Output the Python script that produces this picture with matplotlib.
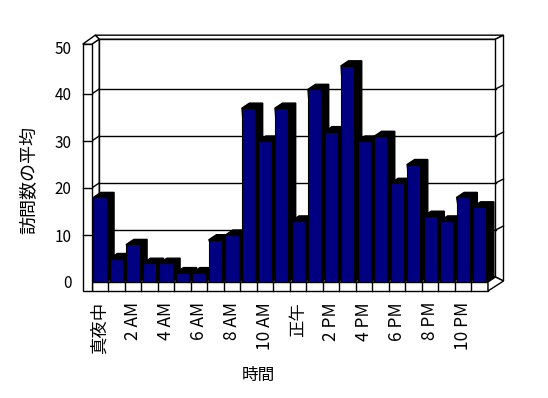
import matplotlib
matplotlib.use('Agg')
import matplotlib.pyplot as plt
from matplotlib.patches import Polygon, Rectangle
import numpy as np

plt.rcParams['font.family'] = ['Noto Sans CJK JP', 'DejaVu Sans']

# 時間帯ごとの訪問数の平均
hours = np.arange(24)
visits = [18, 5, 8, 4, 4, 2, 2, 9, 10, 37, 30, 37, 13, 41, 32, 46, 30, 31, 21, 25, 14, 13, 18, 16]
tick_hours = [0, 2, 4, 6, 8, 10, 12, 14, 16, 18, 20, 22]
tick_labels = ['真夜中', '2 AM', '4 AM', '6 AM', '8 AM', '10 AM', '正午',
               '2 PM', '4 PM', '6 PM', '8 PM', '10 PM']
y_ticks = [0, 10, 20, 30, 40, 50]

W, H = 548, 398
fig = plt.figure(figsize=(W / 100, H / 100), dpi=100)
ax = fig.add_axes([91.7 / W, (H - 282) / H, 396.3 / W, 235 / H])
ax.set_xlim(-0.5, 23.5)
ax.set_ylim(0, 50)
for s in ax.spines.values():
    s.set_visible(False)
ax.patch.set_visible(False)

# ピクセル -> データ単位
px = 24 / 396.3
py = 50 / 235
x0, x1 = -0.5, 23.5
ddx, ddy = 7.5 * px, 5 * py     # 奥行き
TOP = 50.6
LW = 1.0


def poly(pts, fc='white', z=1):
    ax.add_patch(Polygon(pts, closed=True, facecolor=fc, edgecolor='black',
                         linewidth=LW, zorder=z, clip_on=False))


def line(xs, ys, z=1):
    ax.plot(xs, ys, color='black', linewidth=LW, zorder=z, clip_on=False)


# 奥の壁
poly([(x0 + ddx, ddy), (x1 + ddx, ddy), (x1 + ddx, TOP + ddy), (x0 + ddx, TOP + ddy)], z=0.5)
poly([(x0 + ddx, TOP + ddy), (x1 + ddx, TOP + ddy),
      (x1 + ddx + 8 * px, TOP + ddy + 4 * py), (x0 + ddx - 4 * px, TOP + ddy + 4 * py)], z=0.5)
# 右の壁
poly([(x1 + ddx, ddy), (x1 + ddx, TOP + ddy),
      (x1 + ddx + 8 * px, TOP + ddy + 4 * py), (x1 + ddx + 8 * px, 1 * py)], z=0.5)
# 床 (上面)
poly([(x0, 0), (x1, 0), (x1 + ddx, ddy), (x0 + ddx, ddy)], z=0.6)
# 左の壁 (内側)
poly([(x0, 0), (x0 + ddx, ddy), (x0 + ddx, TOP + ddy), (x0, TOP)], z=0.6)

for v in y_ticks[1:-1]:
    line([x0 + ddx, x1 + ddx], [v + ddy, v + ddy], z=0.7)
    line([x0, x0 + ddx], [v, v + ddy], z=0.7)
    line([x1 + ddx, x1 + ddx + 8 * px], [v + ddy, v + ddy + 4 * py], z=0.7)

# 棒の側面と上面
w = 0.8
for h, v in zip(hours, visits):
    poly([(h + w / 2, 0), (h + w / 2 + ddx, ddy), (h + w / 2 + ddx, v + ddy),
          (h - w / 2 + ddx, v + ddy), (h - w / 2, v)], fc='black', z=2)

ax.bar(hours, visits, width=w, color='#000080', edgecolor='black', linewidth=0.8, zorder=3)

# 床 (前面)
poly([(x0, -9 * py), (x1, -9 * py), (x1, 0), (x0, 0)], z=4)
for k in range(1, 24):
    line([k - 0.5, k - 0.5], [-9 * py, 0], z=4.1)
poly([(x1, -9 * py), (x1, 0), (x1 + ddx, ddy), (x1 + ddx + 8 * px, 1 * py)], z=4)

# 左の壁 (前面)
poly([(x0 - 9 * px, -9 * py), (x0, -9 * py), (x0, TOP), (x0 - 9 * px, TOP)], z=4)
poly([(x0 - 9 * px, TOP), (x0, TOP), (x0 + ddx, TOP + ddy),
      (x0 + ddx - 4 * px, TOP + ddy + 4 * py)], z=4)
for v in y_ticks[1:-1]:
    line([x0 - 9 * px, x0], [v, v], z=4.1)

ax.set_yticks(y_ticks)
ax.tick_params(axis='y', length=0, pad=14.5, labelsize=11)
ax.set_xticks(tick_hours, tick_labels, rotation=90)
ax.tick_params(axis='x', length=0, pad=14.4, labelsize=12.5)

ax.set_xlabel('時間', fontsize=12, va='center')
ax.xaxis.set_label_coords(0.42, -0.396)
ax.set_ylabel('訪問数の平均', fontsize=13, va='center')
ax.yaxis.set_label_coords(-0.156, 0.434)

fig.savefig('out.png', dpi=100)
